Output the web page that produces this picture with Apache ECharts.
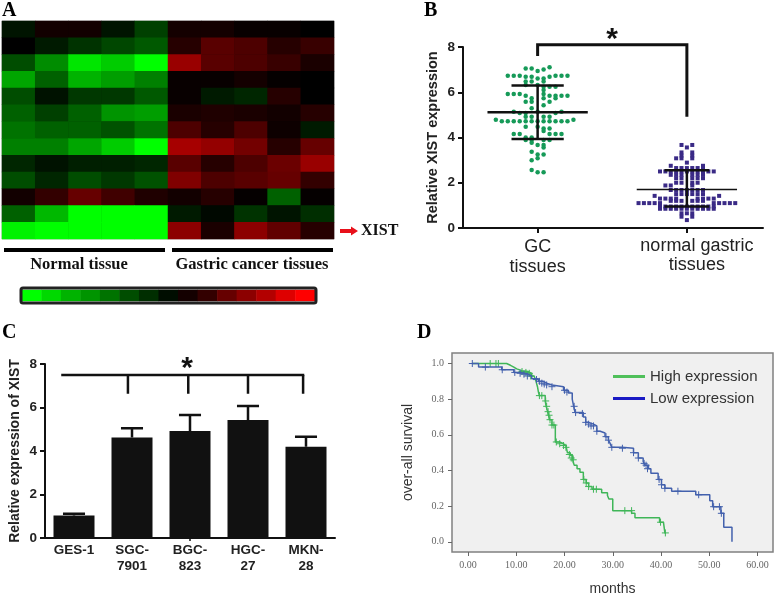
<!DOCTYPE html>
<html><head><meta charset="utf-8">
<style>html,body{margin:0;padding:0;background:#fff}#c{width:775px;height:597px}</style>
<script src="https://cdn.jsdelivr.net/npm/echarts@6/dist/echarts.min.js"></script>
</head><body><div id="c"></div>
<script>
// Panel A: expression heat map, 13 genes x 10 samples (-1 full green .. 1 full red)
const heatRows = [
 [-.08,.07,.07,-.08,-.25,.08,.08,.03,.03,0],
 [0,-.1,-.2,-.28,-.35,.15,.35,.3,.15,.22],
 [-.3,-.55,-.9,-.8,-1,.6,.35,.3,.22,.1],
 [-.65,-.38,-.7,-.62,-.5,.03,.03,.08,.02,0],
 [-.3,-.07,-.22,-.22,-.35,.03,-.1,-.15,.15,0],
 [-.38,-.25,-.38,-.58,-.62,.1,.12,.1,.07,.15],
 [-.45,-.38,-.38,-.32,-.45,.3,.15,.3,.05,-.1],
 [-.5,-.5,-.65,-.8,-1,.65,.58,.45,.15,.4],
 [-.15,-.07,-.12,-.12,-.15,.35,.15,.3,.42,.6],
 [-.3,-.15,-.3,-.22,-.32,.5,.3,.35,.4,.2],
 [.07,.2,.4,.25,.12,.07,.15,.02,-.38,.02],
 [-.38,-.72,-1,-1,-1,-.1,-.03,-.2,-.08,-.18],
 [-.95,-1,-1,-1,-1,.55,.1,.55,.38,.15]
];
const colorScale = [-1,-.85,-.7,-.58,-.45,-.3,-.18,-.05,.08,.2,.4,.55,.7,.87,1];

// Panel B: swarm rows, [y, [x positions]]
const gcRows = [
 [7.05,[.92,.96]],[6.94,[1]],[7.01,[1.04]],[7.10,[1.08]],
 [6.73,[.80,.84,.88,1.12,1.16,1.2]],[6.69,[.92,.96,1.08]],[6.61,[1,1.04]],
 [6.47,[.92,.96,1.04]],[6.32,[.92,1]],[6.24,[1.04,1.08,1.12]],[6.10,[1.04]],
 [5.92,[.80,.84,.88,1.04]],[5.85,[.92,1.08,1.12,1.16,1.2]],[5.73,[.96,1.04,1.12]],
 [5.58,[.92,.96,1.08]],[5.43,[1.04]],[5.29,[.96]],
 [5.14,[.84,1,1.16]],[5.08,[.88,.92,1.12]],
 [4.92,[.92,.96,1.04,1.08]],
 [4.78,[.72,1.24]],[4.72,[.76,.80,.84,.88,.92,.96,1,1.04,1.08,1.12,1.16,1.2]],
 [4.48,[.92,1]],[4.40,[1.04,1.08]],[4.29,[1.04]],
 [4.15,[.84,.88,1.08,1.12,1.16]],[4.0,[.92,.96]],[3.89,[.92,.96,1.04,1.08]],
 [3.77,[.96]],[3.67,[1,1.04]],[3.56,[1.04]],[3.37,[.96]],[3.25,[1,1.04]],
 [3.0,[.96]],[3.08,[1]],[2.56,[.96]],[2.46,[1,1.04]]
];
const normalRows = [
 [3.67,[1.964,2.036]],[3.56,[2]],[3.34,[1.964,2.036]],[3.2,[1.964,2.036]],
 [3.08,[1.928,1.964,2.036]],[2.89,[2]],[2.75,[1.892,2.108]],
 [2.65,[1.928,1.964,2,2.036,2.072,2.108]],
 [2.5,[1.82,1.856,1.892,1.928,1.964,2,2.036,2.072,2.108,2.144,2.18]],
 [2.35,[1.892,1.928,1.964,2.036,2.072,2.108]],[2.2,[1.928,1.964,2.036,2.072,2.108]],
 [2.0,[1.928,1.964,2.036,2.072]],[1.88,[1.856,1.892,2.036]],
 [1.68,[1.892,1.928,1.964,2,2.036,2.072,2.108]],[1.5,[1.928,1.964,2,2.036,2.072,2.108]],
 [1.42,[1.784,2.216]],[1.3,[1.82,1.856,1.892,1.928,2.072,2.108,2.144,2.18]],
 [1.2,[1.892,1.928,1.964,2.036,2.072,2.108]],
 [1.1,[1.676,1.712,1.748,1.784,1.82,2.18,2.216,2.252,2.288,2.324]],
 [.95,[1.82,1.856,1.892,1.928,1.964,2,2.036,2.072,2.108,2.144,2.18]],
 [.85,[1.82,1.856,1.892,1.928,1.964,2,2.036,2.072,2.108,2.144,2.18]],
 [.65,[1.964,2,2.036]],[.5,[1.964,2.036]],[.35,[2]]
];
const bracketB = [[1,7.6],[1,8.1],[2,8.1],[2,4.92]];
const gcStats = {mean:5.12, upper:6.3, lower:3.93};
const normalStats = {mean:1.7, upper:2.55, lower:.95};

// Panel C
const cellLines = ['GES-1','SGC-\n7901','BGC-\n823','HGC-\n27','MKN-\n28'];
const barValues = [1.03,4.62,4.92,5.42,4.2];
const barTops = [1.12,5.05,5.65,6.07,4.65];
const bracketCTop = [[-.22,7.5],[3.97,7.5]];
const bracketCDrops = [.93,1.97,3,3.95];
const bracketCEnd = 6.63;

// Panel D: Kaplan-Meier steps, [months, survival]
const highCurve = [[1,1],[8,1],[8.4,.99],[8.8,.98],[9.5,.97],[10.1,.96],[11.2,.955],[12.5,.945],[13.2,.93],[13.7,.92],[14.1,.90],[14.4,.87],[14.6,.84],[14.8,.82],[16,.79],[16.2,.76],[16.5,.73],[16.7,.71],[16.9,.685],[17.4,.655],[18.1,.56],[19,.55],[19.8,.54],[20.3,.53],[20.6,.50],[21.2,.485],[21.7,.46],[22,.43],[22.6,.41],[23.2,.39],[23.9,.35],[24.5,.33],[25,.31],[25.7,.295],[27.7,.275],[28.9,.26],[29.2,.24],[30,.175],[33.9,.16],[34.6,.135],[39.7,.11],[40.5,.10],[40.8,.05],[41,.05]];
const lowCurve = [[.8,1],[2.2,.98],[7,.965],[9.5,.95],[11,.94],[12.5,.93],[13.2,.915],[14.6,.90],[15.6,.89],[16.3,.88],[17.4,.87],[19.8,.85],[20.8,.835],[21.6,.80],[21.9,.76],[22.2,.725],[23.9,.70],[24.4,.67],[25,.66],[26,.65],[26.7,.62],[27.4,.61],[28.4,.59],[29.1,.57],[29.4,.555],[29.8,.53],[31.9,.525],[34.3,.50],[35.3,.47],[36.3,.45],[36.7,.43],[37.4,.41],[37.9,.385],[39.4,.35],[40.1,.32],[40.8,.30],[42.2,.284],[47.2,.264],[50.1,.23],[50.7,.197],[52.4,.16],[53,.082],[54.7,0]];
const highCensor = [[4.6,1],[5.8,1],[6.3,1],[11.2,.955],[12,.95],[12.7,.945],[13,.93],[14.8,.82],[15.3,.82],[16.1,.79],[16.3,.76],[16.6,.73],[16.8,.71],[17,.685],[17.4,.655],[17.8,.655],[18.3,.56],[19,.55],[19.8,.54],[20.3,.53],[21,.49],[21.4,.47],[21.8,.46],[24,.35],[24.5,.33],[25,.31],[26,.295],[26.6,.295],[32.5,.175],[33.9,.175],[39.9,.11],[40.9,.05]];
const lowCensor = [[.9,1],[3.6,.98],[7.1,.965],[9.7,.95],[10.8,.945],[11.6,.94],[12.3,.93],[14.2,.91],[14.8,.90],[15.3,.89],[15.8,.885],[16.3,.88],[17.4,.87],[20,.85],[20.5,.84],[22,.76],[22.3,.725],[23.7,.72],[24.4,.67],[25,.66],[25.5,.65],[26,.65],[26.7,.62],[28.6,.59],[29.1,.57],[29.8,.53],[32,.525],[34.3,.50],[35.3,.47],[36.5,.44],[36.9,.43],[37.2,.41],[39.6,.35],[40.1,.32],[40.8,.30],[43.5,.284],[47.8,.264],[50.9,.197],[52.1,.197],[52.5,.16]];

const flat = rows => rows.flatMap(r => r[1].map(x => [x, r[0]]));
const heatData = heatRows.flatMap((row,r) => row.map((v,c) => [c,r,v]));
const scaleData = colorScale.map((v,i) => [i,0,v]);
const polyline = (xi,yi,pts,w,color) => ({type:'line',xAxisIndex:xi,yAxisIndex:yi,data:pts,showSymbol:false,silent:true,
  clip:false,lineStyle:{width:w,color:color,cap:'butt',join:'miter'},itemStyle:{color:color},animation:false,z:6});
const statLines = (c,s,halfMean,halfCap,wm) => [
  polyline(2,2,[[c-halfMean,s.mean],[c+halfMean,s.mean]],wm,'#111'),
  polyline(2,2,[[c-halfCap,s.upper],[c+halfCap,s.upper]],2.5,'#111'),
  polyline(2,2,[[c-halfCap,s.lower],[c+halfCap,s.lower]],2.5,'#111'),
  polyline(2,2,[[c,s.lower],[c,s.upper]],2.5,'#111')];
const plus = 'path://M5 0V10M0 5H10';
const sans = 'Liberation Sans', serif = 'Liberation Serif';
const hiddenCat = (grid,data,inverse) => ({type:'category',gridIndex:grid,data:data,inverse:!!inverse,show:false});
const range = n => Array.from({length:n},(_,i)=>i);
const boldAxis = {color:'#222',fontFamily:sans,fontWeight:'bold'};
const blackLine = {show:true,onZero:false,lineStyle:{color:'#111',width:2}};
const letter = (t,x,y) => ({type:'text',x:x,y:y,style:{text:t,font:'bold 20px "'+serif+'"',fill:'#000',textVerticalAlign:'middle'}});
const star = (x,y) => ({type:'text',x:x,y:y,style:{text:'*',font:'bold 30px "'+sans+'"',fill:'#111',textAlign:'center',textVerticalAlign:'middle'}});

const option = {
 animation:false, backgroundColor:'#fff',
 grid:[
  {left:2,top:21,width:332,height:218,show:true,borderColor:'#bbb',borderWidth:1,backgroundColor:'#000'},
  {left:22,top:290,width:293,height:11},
  {left:463,top:47,right:12,bottom:369},
  {left:45,top:364,width:290,bottom:59},
  {left:452,top:353,right:2,bottom:41,show:true,backgroundColor:'#f0f0f0',borderColor:'#808080',borderWidth:1.5}
 ],
 visualMap:{show:false,min:-1,max:1,dimension:2,seriesIndex:[0,1],inRange:{color:['#00ff00','#000000','#ff0000']}},
 xAxis:[
  hiddenCat(0,range(10)),
  hiddenCat(1,range(colorScale.length)),
  {type:'value',gridIndex:2,min:.5,max:2.51,splitLine:{show:false},axisLine:blackLine,
   axisTick:{show:true,customValues:[1,2],length:5,lineStyle:{color:'#111',width:2}},
   axisLabel:{customValues:[1,2],margin:9,color:'#222',fontFamily:sans,fontSize:18,lineHeight:20,
     rich:{n:{fontFamily:sans,fontSize:18,lineHeight:19,color:'#222',padding:[0,0,0,20]}},
     formatter:v=>v===1?'GC\ntissues':'{n|normal gastric}\n{n|tissues}'}},
  {type:'category',gridIndex:3,data:cellLines,axisLine:blackLine,
   axisTick:{show:true,alignWithLabel:true,length:3,interval:i=>i===2,lineStyle:{color:'#111',width:1.5}},
   axisLabel:{...boldAxis,fontSize:13.5,lineHeight:16,margin:4,interval:0}},
  {type:'value',gridIndex:3,min:-.5,max:4.5,show:false},
  {type:'value',gridIndex:4,min:-3.31,max:63.2,splitLine:{show:false},
   axisLine:{show:false,onZero:false},
   axisTick:{show:true,customValues:[0,10,20,30,40,50,60],length:4,lineStyle:{color:'#666'}},
   axisLabel:{customValues:[0,10,20,30,40,50,60],formatter:v=>v.toFixed(2),color:'#666',fontFamily:serif,fontSize:10,margin:8},
   name:'months',nameLocation:'middle',nameGap:30,nameTextStyle:{fontFamily:sans,fontSize:14,color:'#333'}}
 ],
 yAxis:[
  hiddenCat(0,range(13),true),
  hiddenCat(1,[0]),
  {type:'value',gridIndex:2,min:0,max:8,interval:2,splitLine:{show:false},axisLine:blackLine,
   axisTick:{show:true,length:5,lineStyle:{color:'#111',width:2}},
   axisLabel:{...boldAxis,fontSize:13.5,margin:8},
   name:'Relative XIST expression',nameLocation:'middle',nameGap:23,nameTextStyle:{...boldAxis,fontSize:14.5}},
  {type:'value',gridIndex:3,min:0,max:8,interval:2,splitLine:{show:false},axisLine:blackLine,
   axisTick:{show:true,length:5,lineStyle:{color:'#111',width:2}},
   axisLabel:{...boldAxis,fontSize:13.5,margin:8},
   name:'Relative expression of XIST',nameLocation:'middle',nameGap:23,nameTextStyle:{...boldAxis,fontSize:14}},
  {type:'value',gridIndex:4,min:-.057,max:1.059,splitLine:{show:false},axisLine:{show:false,onZero:false},
   axisTick:{show:true,customValues:[0,.2,.4,.6,.8,1],length:4,lineStyle:{color:'#666'}},
   axisLabel:{customValues:[0,.2,.4,.6,.8,1],formatter:v=>v.toFixed(1),color:'#666',fontFamily:serif,fontSize:10,margin:8},
   name:'over-all survival',nameLocation:'middle',nameGap:37,nameTextStyle:{fontFamily:sans,fontSize:14,color:'#333'}}
 ],
 legend:{left:613,top:364,orient:'vertical',itemWidth:32,itemHeight:3,itemGap:7,padding:[5,0,5,0],icon:'rect',selectedMode:false,
  textStyle:{fontFamily:sans,fontSize:15,color:'#333'},
  data:[{name:'High expression',itemStyle:{color:'#4fc05a'}},{name:'Low expression',itemStyle:{color:'#1a1ac4'}}]},
 series:[
  {type:'heatmap',xAxisIndex:0,yAxisIndex:0,data:heatData,itemStyle:{borderWidth:0}},
  {type:'heatmap',xAxisIndex:1,yAxisIndex:1,data:scaleData,itemStyle:{borderWidth:0}},
  {type:'scatter',xAxisIndex:2,yAxisIndex:2,data:flat(gcRows),symbol:'circle',symbolSize:4.5,itemStyle:{color:'#169a58',opacity:1}},
  {type:'scatter',xAxisIndex:2,yAxisIndex:2,data:flat(normalRows),symbol:'rect',symbolSize:4,itemStyle:{color:'#3a2a86',opacity:1}},
  ...statLines(1,gcStats,.336,.175,2.5),
  ...statLines(2,normalStats,.336,.15,1.6),
  polyline(2,2,bracketB,3,'#111'),
  {type:'bar',xAxisIndex:3,yAxisIndex:3,data:barValues,barWidth:41,itemStyle:{color:'#111'}},
  ...barTops.flatMap((t,i)=>[
    polyline(4,3,[[i,barValues[i]],[i,t]],2.5,'#111'),
    polyline(4,3,[[i-.19,t],[i+.19,t]],2.5,'#111')]),
  polyline(4,3,bracketCTop,2.5,'#111'),
  ...bracketCDrops.map(x=>polyline(4,3,[[x,7.5],[x,bracketCEnd]],2.5,'#111')),
  {type:'line',name:'High expression',step:'end',xAxisIndex:5,yAxisIndex:4,data:highCurve,showSymbol:false,lineStyle:{color:'#3fb658',width:1.5},itemStyle:{color:'#3fb658'}},
  {type:'line',name:'Low expression',step:'end',xAxisIndex:5,yAxisIndex:4,data:lowCurve,showSymbol:false,lineStyle:{color:'#4361ad',width:1.5},itemStyle:{color:'#4361ad'},z:3},
  {type:'scatter',xAxisIndex:5,yAxisIndex:4,data:highCensor,symbol:plus,symbolSize:7,itemStyle:{color:'none',borderColor:'#3fb658',borderWidth:1,opacity:1}},
  {type:'scatter',xAxisIndex:5,yAxisIndex:4,data:lowCensor,symbol:plus,symbolSize:7,itemStyle:{color:'none',borderColor:'#4361ad',borderWidth:1,opacity:1},z:3}
 ],
 graphic:[
  letter('A',2,11),letter('B',424,11),letter('C',2,333),letter('D',417,333),
  star(612,40),star(187,369),
  {type:'rect',shape:{x:21,y:288,width:295,height:15,r:2},style:{fill:'none',stroke:'#222',lineWidth:3},z:20},
  {type:'rect',shape:{x:4,y:248,width:161,height:4},style:{fill:'#000'}},
  {type:'rect',shape:{x:172,y:248,width:161,height:4},style:{fill:'#000'}},
  {type:'text',x:79,y:265,style:{text:'Normal tissue',font:'bold 16.5px "'+serif+'"',fill:'#111',textAlign:'center',textVerticalAlign:'middle'}},
  {type:'text',x:252,y:265,style:{text:'Gastric cancer tissues',font:'bold 16.5px "'+serif+'"',fill:'#111',textAlign:'center',textVerticalAlign:'middle'}},
  {type:'text',x:361,y:231,style:{text:'XIST',font:'bold 16px "'+serif+'"',fill:'#111',textVerticalAlign:'middle'}},
  {type:'polygon',shape:{points:[[340,229],[351,229],[351,226.5],[358,231],[351,235.5],[351,233],[340,233]]},style:{fill:'#e8101a'}}
 ]
};
const chart = echarts.init(document.getElementById('c'),null,{renderer:'canvas'});
chart.setOption(option);
</script></body></html>
